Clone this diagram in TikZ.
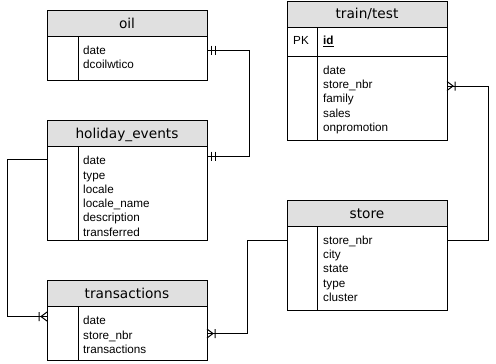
\documentclass[tikz,border=0pt]{standalone}
\usepackage{fontspec}
\setmainfont{Liberation Sans}
\newfontfamily\titlefont{DejaVu Sans}
\usetikzlibrary{calc}
\definecolor{hdrgray}{HTML}{E0E0E0}

% ER end marks: #1 = point on the table edge, #2 = +1 / -1 (side the line leaves on)
\newcommand\erOneMark[2]{%
  \draw[link] ($(#1)+(#2*4,-4.5)$) -- ($(#1)+(#2*4,4.5)$)
              ($(#1)+(#2*8,-4.5)$) -- ($(#1)+(#2*8,4.5)$);}
\newcommand\erManyMark[2]{%
  \draw[link] ($(#1)+(0,-4.5)$) -- ($(#1)+(#2*6,0)$) -- ($(#1)+(0,4.5)$)
              ($(#1)+(#2*8,-4.5)$) -- ($(#1)+(#2*8,4.5)$);}

\begin{document}
\begin{tikzpicture}[x=1pt,y=-1pt,
  tbl/.style={draw=black, line width=1pt, minimum width=160pt, anchor=north west,
              inner sep=0pt, outer sep=0pt},
  hdr/.style={tbl, fill=hdrgray, minimum height=26pt,
              font=\titlefont\fontsize{13.7}{16}\selectfont, text height=10pt, text depth=0pt},
  field/.style={anchor=north west, inner sep=0pt, align=left,
                font=\fontsize{11.7}{14.3}\selectfont},
  keytext/.style={anchor=base west, inner sep=0pt, font=\fontsize{11.7}{14.3}\selectfont},
  link/.style={line width=1pt, black}]

\useasboundingbox (0,0) rectangle (496,364);

% oil
\node[hdr] (oilH) at (47,10) {oil};
\node[tbl, minimum height=44pt] (oilB) at (oilH.south west) {};
\draw[link] ($(oilB.north west)+(31,0)$) -- ($(oilB.south west)+(31,0)$);
\node[field] (oilF) at ($(oilB.north west)+(36,9.6)$) {date\\dcoilwtico};

% holiday_events
\node[hdr] (holH) at (47,120.5) {holiday\_events};
\node[tbl, minimum height=93.5pt] (holB) at (holH.south west) {};
\draw[link] ($(holB.north west)+(31,0)$) -- ($(holB.south west)+(31,0)$);
\node[field] (holF) at ($(holB.north west)+(36,9.6)$)
  {date\\type\\locale\\locale\_name\\description\\transferred};

% transactions
\node[hdr] (transH) at (47,280.5) {transactions};
\node[tbl, minimum height=53.5pt] (transB) at (transH.south west) {};
\draw[link] ($(transB.north west)+(31,0)$) -- ($(transB.south west)+(31,0)$);
\node[field] (transF) at ($(transB.north west)+(36,9.6)$)
  {date\\store\_nbr\\transactions};

% train/test
\node[hdr] (trainH) at (287,1) {train/test};
\node[tbl, minimum height=29pt] (trainK) at (trainH.south west) {};
\node[tbl, minimum height=84pt] (trainB) at (trainK.south west) {};
\draw[link] ($(trainK.north west)+(30,0)$) -- ($(trainB.south west)+(30,0)$);
\node[keytext] (trainPK) at ($(trainK.north west)+(6,18)$) {PK};
\node[keytext] (trainId) at ($(trainK.north west)+(36,18)$) {\textbf{\underline{id}}};
\node[field] (trainF) at ($(trainB.north west)+(36,9.6)$)
  {date\\store\_nbr\\family\\sales\\onpromotion};

% store
\node[hdr] (storeH) at (287,200) {store};
\node[tbl, minimum height=84pt] (storeB) at (storeH.south west) {};
\draw[link] ($(storeB.north west)+(30,0)$) -- ($(storeB.south west)+(30,0)$);
\node[field] (storeF) at ($(storeB.north west)+(36,9.6)$)
  {store\_nbr\\city\\state\\type\\cluster};

% connector end points on the table edges
\coordinate (oilR)   at ($(oilB.north east)+(0,14)$);
\coordinate (holR)   at ($(holB.north east)+(0,9.5)$);
\coordinate (holL)   at ($(holB.north west)+(0,13)$);
\coordinate (trainR) at ($(trainB.north east)+(0,30)$);
\coordinate (storeR) at ($(storeB.north east)+(0,14)$);
\coordinate (storeL) at ($(storeB.north west)+(0,14)$);
\coordinate (transL) at ($(transB.north west)+(0,10)$);
\coordinate (transR) at ($(transB.north east)+(0,27)$);

% relationships
\draw[link] (oilR) -- ++(42,0) |- (holR);
\draw[link] (storeR) -- ++(41,0) |- (trainR);
\draw[link] (storeL) -- ++(-40,0) |- (transR);
\draw[link] (holL) -- ++(-40,0) |- (transL);

\erOneMark{oilR}{1}
\erOneMark{holR}{1}
\erManyMark{trainR}{1}
\erManyMark{transR}{1}
\erManyMark{transL}{-1}
\end{tikzpicture}
\end{document}
